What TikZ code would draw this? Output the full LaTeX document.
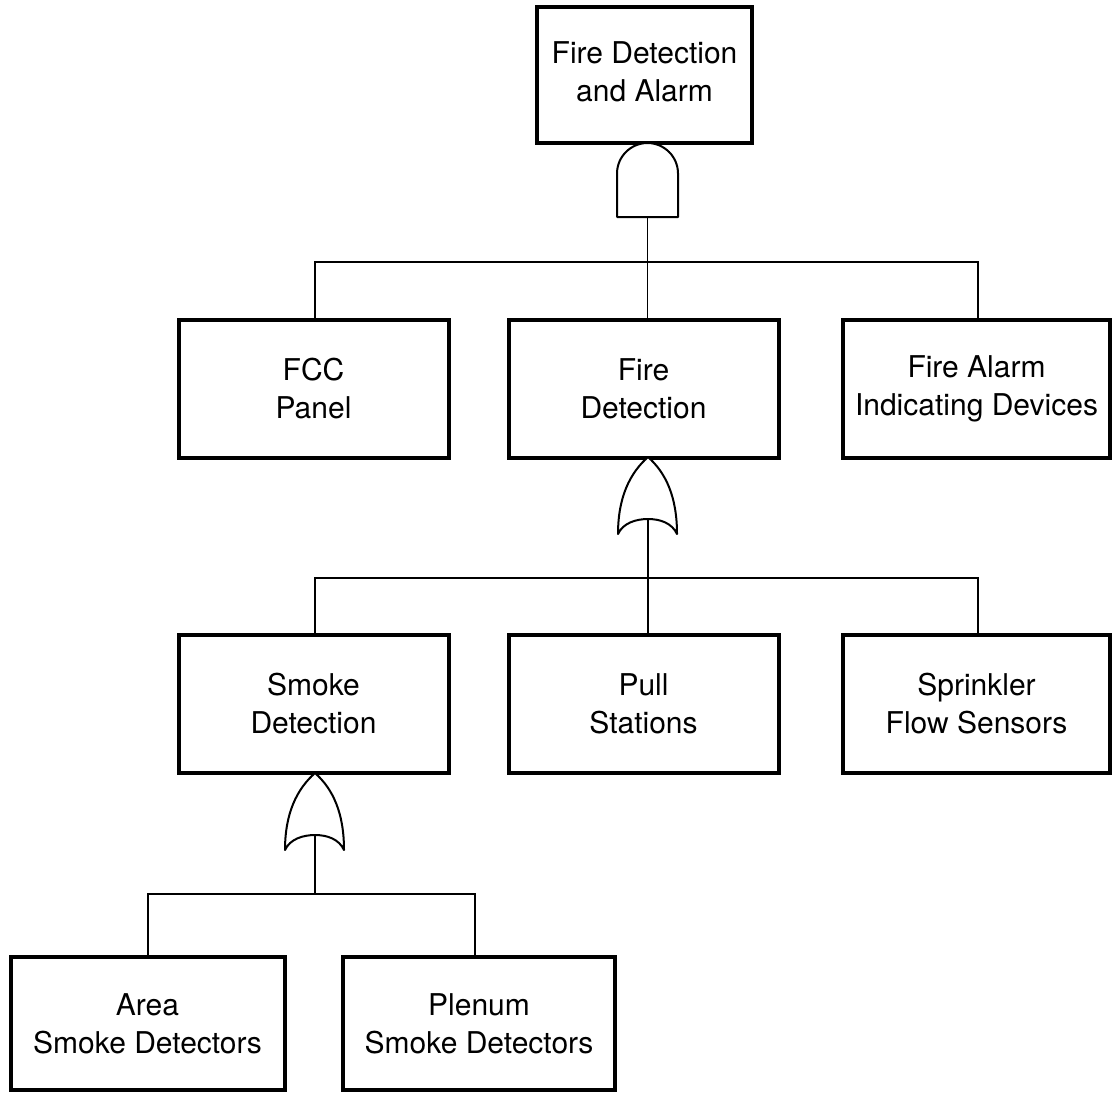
\documentclass[tikz,border=0pt]{standalone}
\usepackage{fontspec}
\setmainfont{TeX Gyre Heros}
\begin{document}
\begin{tikzpicture}[x=0.5pt,y=-0.5pt,
  box/.style={draw, line width=2pt, rectangle, align=center,
    font=\fontsize{15}{19}\selectfont, inner sep=0pt},
  rowbox/.style={box, minimum width=135pt, minimum height=69pt},
  leafbox/.style={box, minimum width=137pt, minimum height=66.5pt},
  wire/.style={line width=0.75pt},
  gateline/.style={line width=1pt, fill=white, line join=round},
  andgate/.pic={
    \draw[gateline] (-30.5,74) -- (-30.5,30.5)
      .. controls (-30.5,13.7) and (-16.8,0) .. (0,0)
      .. controls (16.8,0) and (30.5,13.7) .. (30.5,30.5)
      -- (30.5,74) -- cycle;
    \coordinate (-out) at (0,74);
  },
  orgate/.pic={
    \draw[gateline] (-30,77) .. controls (-30,40) and (-18,16) .. (0,0)
      .. controls (18,16) and (29,40) .. (29,77)
      .. controls (24,66) and (12,62) .. (0,62)
      .. controls (-12,62) and (-25,66) .. (-30,77) -- cycle;
    \coordinate (-out) at (0,62);
  }
]
\useasboundingbox (0,0) rectangle (1112,1093);

% boxes
\node[box, minimum width=107.5pt, minimum height=68pt] (top) at (644.5,75)
  {\raisebox{2.5pt}{\begin{tabular}{@{}c@{}}Fire Detection\\and Alarm\end{tabular}}};
\node[rowbox] (fcc) at (313.5,389) {FCC\\Panel};
\node[rowbox] (fd) at (643.5,389) {Fire\\Detection};
\node[rowbox, minimum width=133.5pt] (fa) at (976.5,389) {Fire Alarm\\Indicating Devices};
\node[rowbox] (sd) at (313.5,704) {Smoke\\Detection};
\node[rowbox] (ps) at (643.5,704) {Pull\\Stations};
\node[rowbox, minimum width=133.5pt] (sf) at (976.5,704) {Sprinkler\\Flow Sensors};
\node[leafbox] (area) at (147.5,1023.5) {Area\\Smoke Detectors};
\node[leafbox, minimum width=136pt] (plen) at (479,1023.5) {Plenum\\Smoke Detectors};

% gates
\pic (g1) at (647.5,143) {andgate};
\pic (g2) at (648,457) {orgate};
\pic (g3) at (315,773) {orgate};

% connectors
\coordinate (bus1) at (647.5,262);
\coordinate (bus2) at (648,578);
\coordinate (bus3) at (315,894);
\draw[wire] (g1-out) -- (g1-out |- fd.north);
\draw[wire] (fcc.north -| 315,0) |- (bus1) -| (fa.north -| 978,0);
\draw[wire] (g2-out) -- (g2-out |- ps.north);
\draw[wire] (sd.north -| 315,0) |- (bus2) -| (sf.north -| 978,0);
\draw[wire] (g3-out) -- (bus3);
\draw[wire] (area.north -| 148,0) |- (bus3) -| (plen.north -| 475,0);
\end{tikzpicture}
\end{document}
